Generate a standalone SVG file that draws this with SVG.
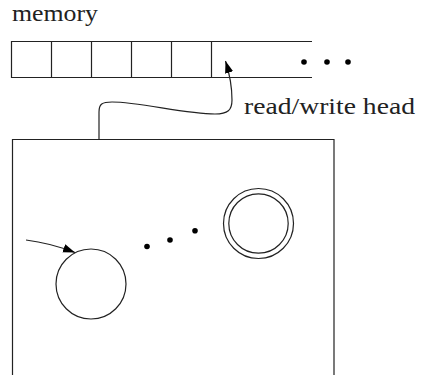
<svg xmlns="http://www.w3.org/2000/svg" width="422" height="375" viewBox="0 0 422 375">
<style>
.ln{fill:none;stroke:#222;stroke-width:1.2}
.t{font-size:23.5px;fill:#222}
.dot{fill:#000}
</style>
<defs>
<marker id="ah" viewBox="0 0 10 10" refX="10" refY="5" markerWidth="12" markerHeight="12" markerUnits="userSpaceOnUse" orient="auto">
<path d="M0,1.5 L10,5 L0,8.5 Z" fill="#000"/>
</marker>
</defs>
<rect width="422" height="375" fill="#fff"/>
<g id="memory">
<text class="t" font-family="'Liberation Serif', 'DejaVu Serif', serif" x="12" y="21" textLength="86" lengthAdjust="spacingAndGlyphs">memory</text>
<path class="ln" d="M312 41.5 H11.5 V77.5 H312"/>
<path class="ln" d="M51.5 41.5 V77.5 M91.5 41.5 V77.5 M131.5 41.5 V77.5 M171.5 41.5 V77.5 M211.5 41.5 V77.5"/>
<circle class="dot" cx="304" cy="62" r="2.8"/>
<circle class="dot" cx="327" cy="62" r="2.8"/>
<circle class="dot" cx="348" cy="62" r="2.8"/>
</g>
<g id="head-label">
<text class="t" font-family="'Liberation Serif', 'DejaVu Serif', serif" x="244" y="113.5" textLength="171" lengthAdjust="spacingAndGlyphs">read/write head</text>
</g>
<g id="control">
<path class="ln" d="M12.5 375 V139.5 H334 V375"/>
</g>
<g id="start">
<circle class="ln" cx="91" cy="284" r="35"/>
</g>
<g id="accept">
<circle class="ln" cx="258.5" cy="223.5" r="35"/>
<circle class="ln" cx="258.5" cy="223.5" r="29.7"/>
</g>
<g id="ellipsis">
<circle class="dot" cx="147" cy="246.5" r="2.8"/>
<circle class="dot" cx="170" cy="240" r="2.8"/>
<circle class="dot" cx="195" cy="230.7" r="2.8"/>
</g>
<g id="connectors">
<path class="ln" d="M99 140 L99 112 C99 104 102 102 112 102 C140 102 185 114 215 114 C228 114 232 110 232 100 C232 86 229 72 225.5 61" marker-end="url(#ah)"/>
<path class="ln" d="M26 240 C42 242 58 246 75 252.5" marker-end="url(#ah)"/>
</g>
</svg>
